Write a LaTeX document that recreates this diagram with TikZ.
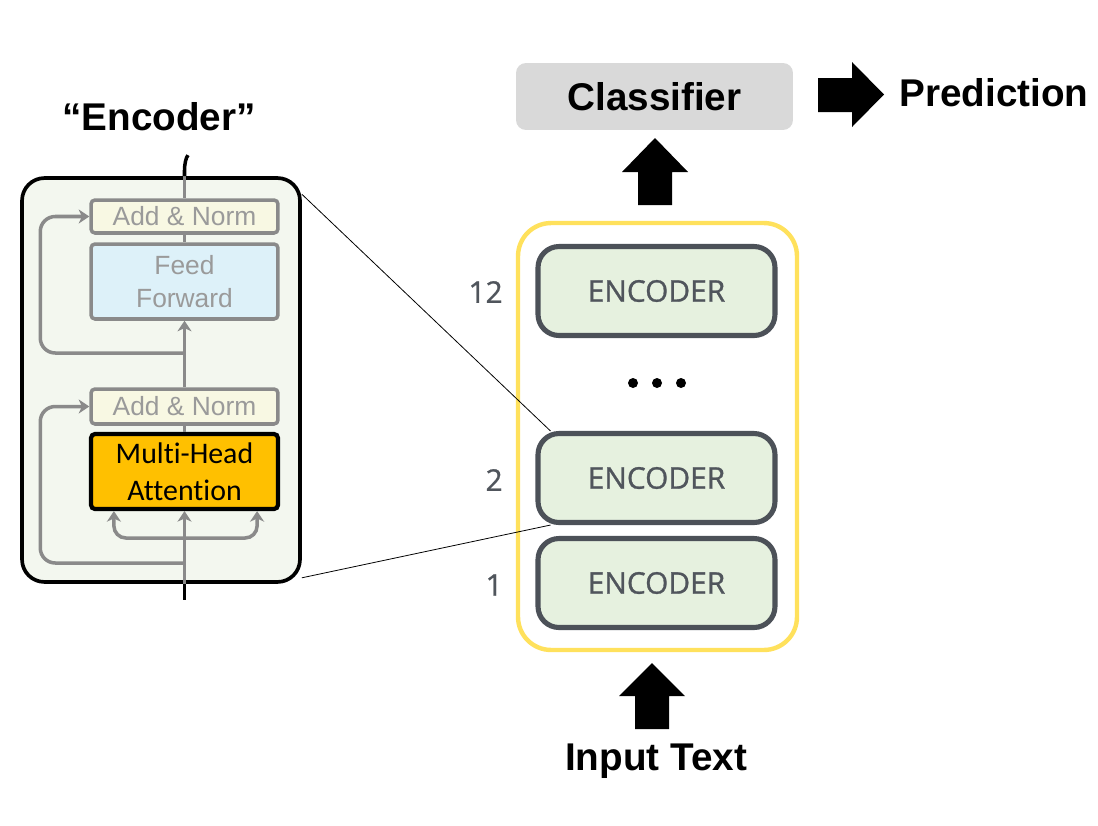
\documentclass[tikz,border=0pt]{standalone}
\usepackage{fontspec}
\setmainfont{Liberation Sans}
\newfontfamily\osans{Open Sans}[FakeBold=0.9]
\newfontfamily\calib{Carlito}[Ligatures={NoCommon}]
\usetikzlibrary{arrows.meta}
\definecolor{ggrey}{HTML}{8A8A8A}
\definecolor{gtext}{HTML}{9A9A9A}
\definecolor{encfill}{HTML}{F3F7EF}
\definecolor{anfill}{HTML}{F8F8E3}
\definecolor{fffill}{HTML}{DDF1F9}
\definecolor{mhafill}{HTML}{FFC000}
\definecolor{yel}{HTML}{FFE15C}
\definecolor{encdraw}{HTML}{4C5158}
\definecolor{encgreen}{HTML}{E6F1DF}
\definecolor{enctext}{HTML}{50555C}
\definecolor{clsfill}{HTML}{D9D9D9}
\tikzset{
  bigbox/.style={draw=black, line width=2.1pt, fill=encfill, rounded corners=0.45cm,
    minimum width=5.56cm, minimum height=8.08cm, inner sep=0pt},
  subbox/.style={draw=ggrey, line width=2pt, rounded corners=0.08cm,
    minimum width=3.74cm, inner sep=0pt, text=gtext, font=\fontsize{15}{18.5}\selectfont, align=center},
  mhabox/.style={draw=black, line width=2.4pt, fill=mhafill, rounded corners=0.08cm,
    minimum width=3.74cm, minimum height=1.5cm, inner sep=0pt,
    font=\calib\fontsize{17}{21}\selectfont, align=center},
  gline/.style={draw=ggrey, line width=2pt},
  garrow/.style={gline, -{Stealth[length=6pt,width=8pt,inset=1.8pt]}},
  encnode/.style={draw=encdraw, line width=2.9pt, fill=encgreen, rounded corners=0.42cm,
    minimum width=4.74cm, minimum height=1.78cm, inner sep=0pt,
    text=enctext, font=\osans\fontsize{17}{20}\selectfont},
  numlab/.style={anchor=east, text=enctext, font=\osans\fontsize{17}{20}\selectfont, inner sep=0pt},
  bigtext/.style={font=\fontsize{22}{26}\selectfont\bfseries, inner sep=0pt},
  thinline/.style={draw=black, line width=0.45pt},
}
\begin{document}
\begin{tikzpicture}[x=0.02cm,y=-0.02cm]
\useasboundingbox[fill=white] (0,0) rectangle (1098,825);

% ---------- left: encoder detail ----------
\node[bigtext] (enclabel) at (159,117) {“Encoder”};
\node[bigbox] (encbox) at (161,380) {};
\node[subbox, fill=anfill, minimum height=0.66cm] (an2) at (184.5,216.5) {Add \& Norm};
\node[subbox, fill=fffill, minimum height=1.5cm] (ff) at (184.5,281.5) {Feed\\Forward};
\node[subbox, fill=anfill, minimum height=0.7cm] (an1) at (184.5,406.5) {Add \& Norm};
\node[mhabox] (mha) at (184.5,471.5) {Multi-Head\\Attention};

\coordinate (topin) at (an2.north |- encbox.north);
\coordinate (botin) at (an2.north |- encbox.south);
\draw[gline] (topin) -- (an2.north);
\draw[gline] (an2.south) -- (ff.north);
\draw[garrow] (an1.north) -- (ff.south);
\draw[gline] (mha.north) -- (an1.south);
\draw[garrow] (botin) -- (mha.south);
\draw[black, line width=2pt] (topin) -- ++(0,-6) .. controls +(0,-6) and +(-2,2) .. ++(3.5,-15);
\draw[black, line width=2pt] (botin) -- ++(0,16);
% residual loops
\draw[garrow, rounded corners=0.3cm] (184.5,353) -| ([xshift=-0.98cm]an2.west) -- (an2.west);
\draw[garrow, rounded corners=0.3cm] (184.5,563) -| ([xshift=-0.98cm]an1.west) -- (an1.west);
% branch arrows into attention
\draw[garrow, rounded corners=0.24cm] (184.5,538) -| ([xshift=0.5cm]mha.south west);
\draw[garrow, rounded corners=0.24cm] (184.5,538) -| ([xshift=-0.46cm]mha.south east);

% ---------- right: stack ----------
\node[draw=yel, line width=2.5pt, fill=white, rounded corners=0.66cm,
  minimum width=5.58cm, minimum height=8.54cm, inner sep=0pt] (stack) at (657.5,436.5) {};
\node[encnode] (e12) at (656.5,291) {ENCODER};
\node[encnode] (e2) at (656.5,478) {ENCODER};
\node[encnode] (e1) at (656.5,583) {ENCODER};
\node[numlab] (n12) at (503,292) {12};
\node[numlab] (n2) at (503,480) {2};
\node[numlab] (n1) at (503,585) {1};
\fill (633,383) circle (0.1cm);
\fill (657,383) circle (0.1cm);
\fill (681,383) circle (0.1cm);

% zoom lines
\draw[thinline] ([yshift=-0.36cm]encbox.north east) -- ([xshift=0.3cm]e2.north west);
\draw[thinline] ([yshift=0.12cm]encbox.south east) -- ([xshift=0.3cm]e2.south west);

% classifier
\node[fill=clsfill, rounded corners=0.2cm, minimum width=5.54cm, minimum height=1.34cm,
  inner sep=0pt, bigtext] (cls) at (654.5,96.5) {Classifier};
\node[bigtext, anchor=west] (pred) at (899,93) {Prediction};
\node[bigtext, anchor=base] (inp) at (656,770) {Input Text};

% block arrows
\fill[black] (638,205) -- (638,172) -- (622,172) -- (655,138) -- (688,172) -- (672,172) -- (672,205) -- cycle;
\fill[black] (635,729) -- (635,696) -- (619,696) -- (652,663) -- (685,696) -- (669,696) -- (669,729) -- cycle;
\fill[black] (818,78) -- (852,78) -- (852,62) -- (884,94.5) -- (852,127) -- (852,112) -- (818,112) -- cycle;
\end{tikzpicture}
\end{document}
